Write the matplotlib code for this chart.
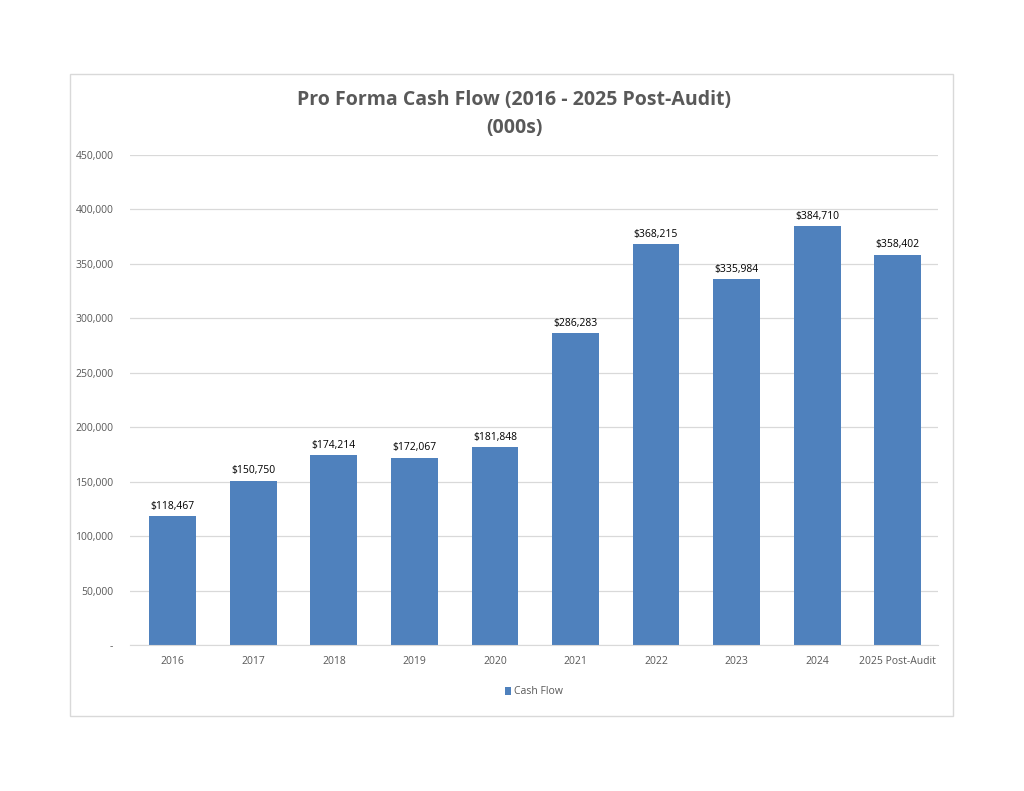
import matplotlib.pyplot as plt
from matplotlib.patches import Rectangle
from matplotlib.ticker import FuncFormatter

years = ["2016", "2017", "2018", "2019", "2020", "2021", "2022", "2023", "2024", "2025 Post-Audit"]
cash_flow = [118467, 150750, 174214, 172067, 181848, 286283, 368215, 335984, 384710, 358402]
y_ticks = [0, 50000, 100000, 150000, 200000, 250000, 300000, 350000, 400000, 450000]

plt.rcParams['font.family'] = ['Open Sans', 'DejaVu Sans']

fig = plt.figure(figsize=(10.24, 7.91), dpi=100)
fig.patch.set_facecolor("white")

# chart frame
fig.patches.append(Rectangle((0.0684, 0.0948), 0.8623, 0.8116, transform=fig.transFigure,
                             fill=False, edgecolor="#d9d9d9", linewidth=1.0))

ax = fig.add_axes([0.127, 0.1846, 0.789, 0.6195])
x = range(len(years))
bars = ax.bar(x, cash_flow, width=0.58, color="#4F81BD", label="Cash Flow", zorder=2)

for b, v in zip(bars, cash_flow):
    ax.text(b.get_x() + b.get_width() / 2, v + 4000, "${:,}".format(v),
            ha="center", va="bottom", fontsize=7.5, color="black")

ax.set_ylim(0, 450000)
ax.set_xlim(-0.53, 9.5)
ax.set_yticks(y_ticks)
ax.yaxis.set_major_formatter(FuncFormatter(lambda v, p: "-" if v == 0 else "{:,.0f}".format(v)))
ax.set_xticks(list(x))
ax.set_xticklabels(years)
ax.tick_params(axis="both", length=0, labelsize=7.5, labelcolor="#595959")
ax.tick_params(axis="y", pad=12)
ax.tick_params(axis="x", pad=8)
ax.grid(axis="y", color="#d9d9d9", linewidth=0.9, zorder=0)
for s in ["top", "right", "left"]:
    ax.spines[s].set_visible(False)
ax.spines["bottom"].set_color("#d9d9d9")

fig.text(0.502, 0.856, "Pro Forma Cash Flow (2016 - 2025 Post-Audit)\n(000s)", ha="center", va="center",
         fontsize=14, fontweight="bold", color="#595959", linespacing=1.55)

ax.legend(loc="upper center", bbox_to_anchor=(0.5, -0.065), frameon=False, fontsize=7.5,
          labelcolor="#595959", handlelength=0.6, handleheight=0.8, handletextpad=0.3)

fig.savefig("out.png", dpi=100, facecolor="white")
